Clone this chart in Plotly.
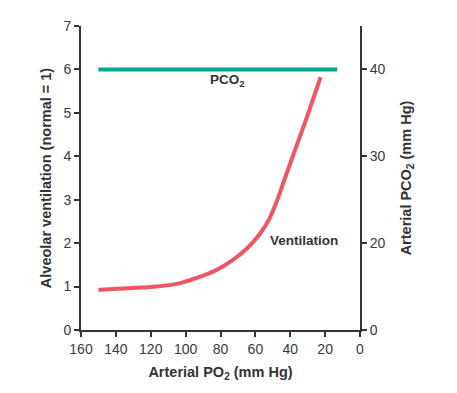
import plotly.graph_objects as go

# Ventilation curve (left axis, normal = 1)
po2_vent = [150, 140, 120, 103, 84, 73, 65, 58, 52, 47, 43, 38, 30, 22.6]
ventilation = [0.92, 0.95, 0.99, 1.08, 1.35, 1.61, 1.87, 2.18, 2.56, 3.04, 3.50, 4.06, 4.95, 5.82]

# Arterial PCO2 (right axis, broken scale: "0" sits where 10 would be)
po2_pco2 = [150, 13]
pco2 = [40, 40]

x_ticks = [160, 140, 120, 100, 80, 60, 40, 20, 0]
y_ticks = [0, 1, 2, 3, 4, 5, 6, 7]
y2_tickvals = [10, 20, 30, 40]
y2_ticktext = ["0", "20", "30", "40"]

axis_color = "#333333"
FONT = "Liberation Sans, Arial, sans-serif"
tick_font = dict(family=FONT, size=14, color="#3a3a3a")
title_font = dict(family=FONT, size=14.5, color="#333333")

fig = go.Figure()
fig.add_trace(go.Scatter(
    x=po2_pco2, y=pco2, mode="lines", yaxis="y2",
    line=dict(color="#00a88c", width=4), hoverinfo="skip", showlegend=False))
fig.add_trace(go.Scatter(
    x=po2_vent, y=ventilation, mode="lines",
    line=dict(color="#ef5563", width=4, shape="spline", smoothing=0.7),
    hoverinfo="skip", showlegend=False))

fig.add_annotation(x=76, y=5.74, xref="x", yref="y", text="<b>PCO<sub>2</sub></b>",
                   showarrow=False, font=dict(family=FONT, size=13.5, color="#333333"))
fig.add_annotation(x=32, y=2.06, xref="x", yref="y", text="<b>Ventilation</b>",
                   showarrow=False, font=dict(family=FONT, size=13.5, color="#333333"))

# The page body has an 8px default margin, margins compensate for it
fig.update_layout(
    width=457, height=393,
    margin=dict(l=73, r=105, t=10, b=71),
    paper_bgcolor="white", plot_bgcolor="white",
    xaxis=dict(range=[160, 0], tickvals=x_ticks, showgrid=False, zeroline=False,
               showline=True, linecolor=axis_color, linewidth=2,
               ticks="outside", ticklen=5, tickwidth=2, tickcolor=axis_color,
               tickfont=tick_font,
               title=dict(text="<b>Arterial PO<sub>2</sub> (mm Hg)</b>", font=title_font, standoff=11)),
    yaxis=dict(range=[0, 7], tickvals=y_ticks, showgrid=False, zeroline=False,
               showline=True, linecolor=axis_color, linewidth=2,
               ticks="outside", ticklen=5, tickwidth=2, tickcolor=axis_color,
               tickfont=tick_font,
               title=dict(text="<b>Alveolar ventilation (normal = 1)</b>", font=title_font, standoff=8)),
    yaxis2=dict(range=[10, 45], tickvals=y2_tickvals, ticktext=y2_ticktext,
                overlaying="y", side="right",
                showgrid=False, zeroline=False,
                showline=True, linecolor=axis_color, linewidth=2,
                ticks="outside", ticklen=5, tickwidth=2, tickcolor=axis_color,
                tickfont=tick_font,
                title=dict(text="<b>Arterial PCO<sub>2</sub> (mm Hg)</b>", font=title_font, standoff=16)),
)

fig.write_html("out.html")
